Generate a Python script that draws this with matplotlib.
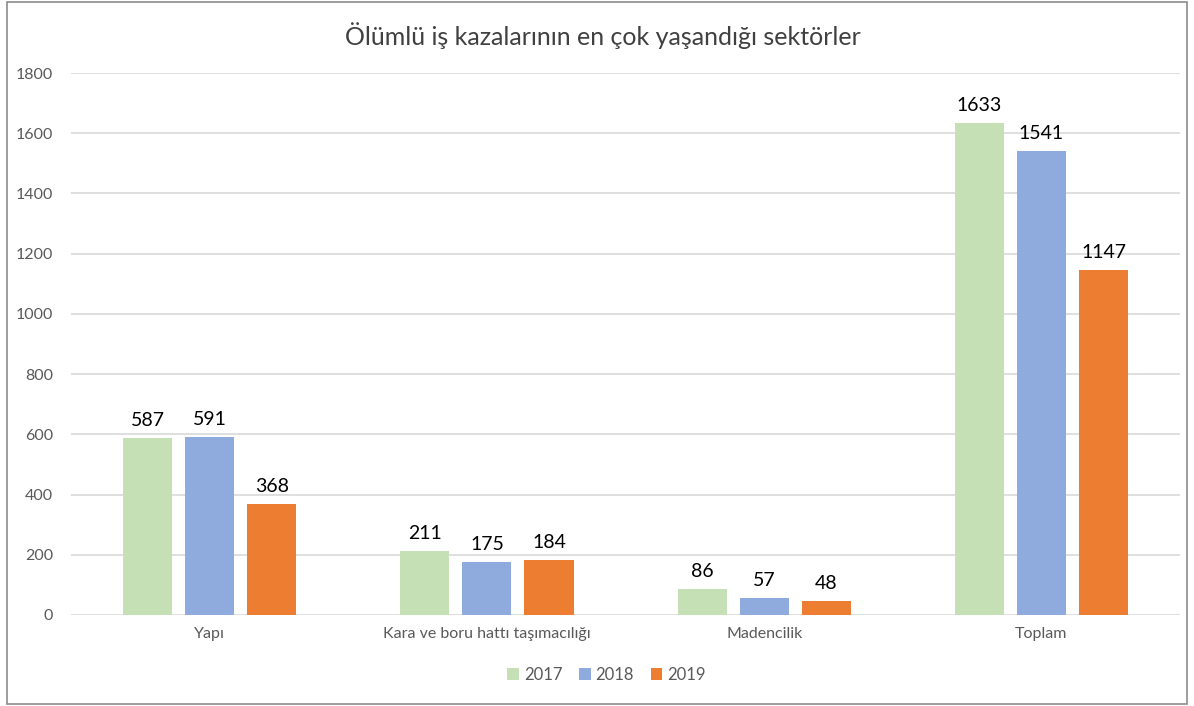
import numpy as np
import matplotlib
matplotlib.use('Agg')
import matplotlib.pyplot as plt
from matplotlib.patches import Rectangle

plt.rcParams['font.family'] = ['Lato', 'DejaVu Sans']

# Data
categories = ['Yapı', 'Kara ve boru hattı taşımacılığı', 'Madencilik', 'Toplam']
years = ['2017', '2018', '2019']
v2017 = [587, 211, 86, 1633]
v2018 = [591, 175, 57, 1541]
v2019 = [368, 184, 48, 1147]
colors = ['#C5E0B4', '#8FAADC', '#ED7D31']

fig = plt.figure(figsize=(11.94, 7.06), dpi=100)
ax = fig.add_axes([0.0595, 0.1289, 0.9288, 0.7677])

x = np.arange(len(categories))
w = 0.177
step = 0.224
for i, (vals, yr) in enumerate(zip([v2017, v2018, v2019], years)):
    bars = ax.bar(x + (i - 1)*step, vals, w, color=colors[i], label=yr, zorder=3)
    for b, v in zip(bars, vals):
        ax.text(b.get_x() + b.get_width()/2, v + 30, str(v), ha='center', va='bottom',
                fontsize=14, color='black')

ax.set_xlim(-0.5, len(categories) - 0.5)
ax.set_ylim(0, 1800)
ax.set_yticks(range(0, 1801, 200))
ax.set_xticks(x)
ax.set_xticklabels(categories)
ax.tick_params(axis='both', length=0, labelsize=11.5, labelcolor='#595959')
ax.tick_params(axis='y', pad=13)
ax.tick_params(axis='x', pad=9)
ax.grid(axis='y', color='#D9D9D9', linewidth=1.2, zorder=0)
for s in ax.spines.values():
    s.set_visible(False)

fig.text(0.505, 0.95, 'Ölümlü iş kazalarının en çok yaşandığı sektörler', fontsize=18,
         color='#404040', ha='center', va='center')

fig.legend(loc='lower center', bbox_to_anchor=(0.508, 0.012), ncol=3, frameon=False,
           fontsize=12, handlelength=0.7, handleheight=0.7, handletextpad=0.3,
           columnspacing=1.0, labelcolor='#595959')

fig.patches.append(Rectangle((0.006, 0.003), 0.988, 0.994, transform=fig.transFigure,
                             fill=False, edgecolor='#8C8C8C', linewidth=1.2))

fig.savefig('out.png', dpi=100)
